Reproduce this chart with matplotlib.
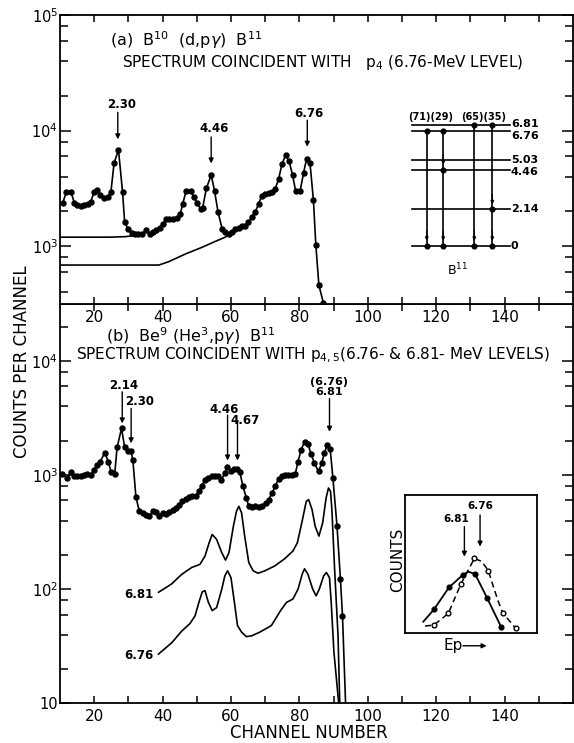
import matplotlib

matplotlib.use("Agg")
import matplotlib.pyplot as plt
import numpy as np
from matplotlib import ticker

plt.rcParams["font.family"] = ["DejaVu Sans"]
plt.rcParams["mathtext.fontset"] = "dejavusans"

# ---- (a) B10(d,p gamma)B11, coincident with p4 ----
chan_a = [10.8, 11.9, 13.2, 14.2, 15.1, 16.1, 17.1, 18.1, 19.0, 20.0, 20.8, 21.7, 22.9, 23.9,
          24.9, 25.8, 27.1, 28.3, 28.9, 29.9, 31.0, 31.9, 32.9, 34.1, 35.2, 36.2, 37.2, 38.2,
          39.1, 40.1, 41.1, 42.0, 43.0, 44.3, 45.2, 45.9, 46.9, 48.2, 49.1, 50.1, 51.1, 51.7,
          52.8, 54.2, 55.2, 56.2, 57.4, 58.3, 59.3, 60.3, 61.3, 62.2, 63.2, 64.2, 65.1, 66.1,
          67.1, 68.1, 69.0, 70.0, 71.0, 71.9, 72.9, 73.9, 74.9, 76.0, 77.0, 78.0, 78.9, 80.2,
          81.2, 82.1, 83.1, 84.1, 84.8, 85.7, 87.0]
counts_a = [2370, 2960, 2960, 2370, 2265, 2220, 2265, 2340, 2420, 2960, 3055, 2770, 2620, 2660,
            2960, 5220, 6820, 2920, 1620, 1400, 1310, 1280, 1265, 1280, 1370, 1265, 1325, 1370,
            1435, 1565, 1710, 1710, 1710, 1755, 1915, 2340, 3020, 3020, 2670, 2370, 2090, 2145,
            3160, 4130, 3000, 1980, 1415, 1325, 1280, 1325, 1400, 1435, 1495, 1510, 1620, 1790,
            1980, 2340, 2730, 2805, 2900, 2960, 3120, 3790, 5120, 6175, 5410, 4130, 3000, 3000,
            4275, 5700, 5220, 2500, 1030, 460, 325]
bg_hi_chan = [10, 24.4, 29.2, 32.1, 34.1]
bg_hi_counts = [1197, 1197, 1210, 1240, 1275]
bg_lo_chan = [10, 38.9, 41.8, 46.7, 51.6, 55.4, 58.3, 60.8]
bg_lo_counts = [687, 687, 735, 857, 980, 1100, 1197, 1325]

# B11 level scheme
levels = [0, 2.14, 4.46, 5.03, 6.76, 6.81]
branch_labels = ["(71)(29)", "(65)(35)"]
cascades = [[6.76, 0], [6.76, 4.46, 0], [6.81, 0], [6.81, 2.14, 0]]

# ---- (b) Be9(He3,p gamma)B11, coincident with p4,5 ----
chan_b = [10.5, 12.1, 13.1, 14.1, 15.1, 16.0, 17.0, 18.0, 19.0, 19.9, 20.9, 21.8, 23.1, 24.1,
          25.0, 26.0, 26.7, 28.0, 28.9, 29.8, 30.7, 31.3, 32.2, 33.2, 34.2, 35.1, 36.1, 37.1,
          38.0, 39.0, 40.0, 41.0, 41.9, 42.9, 43.9, 44.8, 45.8, 46.8, 47.7, 48.7, 49.7, 50.5,
          51.4, 52.4, 53.4, 54.3, 55.3, 56.3, 57.2, 58.2, 58.9, 59.9, 60.8, 61.8, 62.6, 63.5,
          64.5, 65.2, 66.2, 67.1, 68.1, 69.1, 70.1, 71.0, 72.0, 73.0, 73.9, 74.9, 75.9, 76.8,
          77.8, 78.8, 79.6, 80.5, 81.5, 82.5, 83.4, 84.4, 85.6, 86.5, 87.3, 88.1, 89.0, 89.8,
          91.0, 92.0, 92.6]
counts_b = [1027, 942, 1055, 987, 987, 987, 1007, 1027, 1007, 1113, 1230, 1316, 1577, 1316,
            1055, 1027, 1755, 2570, 1755, 1640, 1640, 1360, 643, 482, 466, 451, 436, 482,
            472, 436, 466, 460, 472, 499, 515, 551, 589, 618, 643, 652, 661, 721,
            797, 911, 942, 973, 987, 987, 911, 1041, 1190, 1077, 1128, 1128, 1055, 797,
            630, 533, 526, 541, 526, 541, 570, 610, 697, 807, 923, 987, 1007, 1007,
            1007, 1027, 1316, 1663, 1966, 1876, 1535, 1273, 1077, 1273, 1556, 1842, 1698, 942,
            357, 122, 58.5]
tail_chan_b = [92.6, 93.5]
tail_counts_b = [58.5, 10]

c681_chan = [38.8, 42.6, 45.6, 48.5, 50.9, 52.4, 53.6, 54.5, 55.8, 57.3, 58.4, 59.4, 60.7,
             61.6, 62.3, 63.1, 64.0, 65.2, 66.5, 67.9, 69.9, 72.8, 75.7, 78.1, 79.4, 80.8,
             82.0, 82.7, 83.7, 84.6, 85.7, 86.8, 87.8, 88.5, 89.1, 89.5, 90.3, 91.3, 91.8]
c681_counts = [94, 111, 135, 155, 165, 195, 255, 302, 273, 209, 180, 209, 357,
               482, 533, 466, 292, 171, 145, 138, 145, 160, 185, 216, 255, 394,
               589, 610, 499, 357, 292, 381, 630, 771, 721, 499, 149, 39, 10]
c676_chan = [38.8, 42.7, 45.6, 48.0, 49.5, 50.6, 51.6, 52.4, 53.4, 54.5, 55.8, 57.3, 58.2,
             59.0, 60.0, 61.0, 61.9, 63.1, 64.5, 66.0, 68.4, 71.8, 74.5, 76.2, 78.1, 79.6,
             80.8, 81.5, 82.5, 83.9, 84.9, 85.8, 87.1, 87.9, 88.8, 89.3, 90.1, 91.5]
c676_counts = [27, 34, 43, 50, 58.5, 76.5, 95, 97, 76.5, 65, 69, 100, 131,
               145, 126, 76.5, 48, 42, 38.4, 39, 42, 48, 65, 76.5, 82, 100,
               135, 151, 135, 100, 87.5, 100, 131, 140, 126, 76.5, 28, 10]

# inset: proton peak shapes (arbitrary units)
ins681_x = [1.39, 2.2, 3.34, 4.38, 4.81, 5.32, 6.25, 7.29, 7.4]
ins681_y = [0.8, 1.69, 3.29, 4.19, 4.43, 4.26, 2.49, 0.44, 0.25]
ins681_dots = [1, 2, 3, 5, 6, 7]
ins676_x = [1.52, 2.2, 3.29, 4.23, 5.27, 5.83, 6.33, 6.71, 7.09, 7.42, 8.41]
ins676_y = [0.48, 0.56, 1.4, 3.51, 5.4, 5.17, 4.5, 3.34, 2.25, 1.45, 0.31]
ins676_dots = [1, 2, 3, 4, 6, 9, 10]

W, H = 574, 743


def fx(px):
    return px / W


def fy(py):
    return 1 - py / H


def decade_label(v, _pos):
    n = int(round(np.log10(v)))
    return "10" if n == 1 else rf"$10^{{{n}}}$"


def style_axis(ax, ylo, yhi):
    ax.set_yscale("log")
    ax.set_xlim(10, 160)
    ax.set_ylim(ylo, yhi)
    ax.xaxis.set_major_locator(ticker.FixedLocator(range(20, 160, 10)))
    ax.xaxis.set_major_formatter(ticker.FuncFormatter(
        lambda v, _: f"{v:.0f}" if v % 20 == 0 else ""))
    ax.yaxis.set_major_locator(ticker.LogLocator(base=10, numticks=10))
    ax.yaxis.set_minor_locator(ticker.LogLocator(base=10, subs=(2, 4, 6, 8), numticks=10))
    ax.yaxis.set_major_formatter(ticker.FuncFormatter(decade_label))
    ax.yaxis.set_minor_formatter(ticker.NullFormatter())
    ax.tick_params(which="both", direction="in", top=True, right=True, width=1.1)
    ax.tick_params(axis="x", length=5, labelsize=11, pad=4)
    ax.tick_params(axis="y", which="major", length=8, labelsize=10.5, pad=1.5)
    ax.tick_params(axis="y", which="minor", length=6)
    for sp in ax.spines.values():
        sp.set_linewidth(1.3)


def arrow(ax, x, y_from, y_to, **kw):
    ax.annotate("", xy=(x, y_to), xytext=(x, y_from),
                arrowprops=dict(arrowstyle="-|>", color="k", lw=1.0, mutation_scale=7,
                                shrinkA=0, shrinkB=0), **kw)


fig = plt.figure(figsize=(W / 100, H / 100), dpi=100)
left, right = fx(60), fx(573)
ax_a = fig.add_axes([left, fy(304), right - left, fy(15) - fy(304)])
ax_b = fig.add_axes([left, fy(703.3), right - left, fy(304) - fy(703.3)])
ax_a.set_zorder(2)
style_axis(ax_a, 10 ** 2.5, 1e5)
style_axis(ax_b, 10, 10 ** 4.5)

mk = dict(color="k", lw=1.2, marker="o", ms=3.6, solid_joinstyle="round")
small = dict(fontsize=8.5, fontweight="bold", ha="center", va="center")

# panel (a)
ax_a.plot(chan_a, counts_a, **mk)
ax_a.plot(bg_hi_chan, bg_hi_counts, color="k", lw=1.2)
ax_a.plot(bg_lo_chan, bg_lo_counts, color="k", lw=1.2)
arrow(ax_a, 26.9, 14400, 8400)
ax_a.text(28.0, 16800, "2.30", **small)
arrow(ax_a, 54.2, 8800, 5200)
ax_a.text(55.1, 10400, "4.46", **small)
arrow(ax_a, 82.3, 12300, 7250)
ax_a.text(82.9, 14100, "6.76", **small)

fig.text(fx(110), fy(40), r"(a)  B$^{10}$  (d,p$\gamma$)  B$^{11}$", fontsize=11.5,
         va="center")
fig.text(fx(323), fy(63), r"SPECTRUM COINCIDENT WITH   p$_4$ (6.76-MeV LEVEL)",
         fontsize=11, ha="center", va="center")

# level scheme (6.81 drawn a little above 6.76 so both lines show)
lv = fig.add_axes([fx(411.7), fy(246), fx(510) - fx(411.7), fy(125) - fy(246)])
lv.set_zorder(4)
lv.set_xlim(0, 1)
lv.set_ylim(0, 7.09)
lv.axis("off")


def lev_y(e):
    return e + 0.28 if e > 6.78 else e


label_shift = {6.81: 0.05, 6.76: -0.3, 4.46: -0.1}
for e in levels:
    lv.plot([0, 1], [lev_y(e)] * 2, color="k", lw=1.2, clip_on=False)
    lv.text(1.01, lev_y(e) + label_shift.get(e, 0), f"{e:g}",
            fontsize=8, fontweight="bold", va="center", ha="left")
trans_x = [0.153, 0.321, 0.637, 0.82]
for xt, casc in zip(trans_x, cascades):
    ys = [lev_y(e) for e in casc]
    lv.plot([xt] * len(ys), ys, color="k", lw=1.2, marker="o", ms=3.4, clip_on=False)
    for lo in casc[1:]:
        lv.annotate("", xy=(xt, lev_y(lo) + 0.3), xytext=(xt, lev_y(lo) + 0.9),
                    arrowprops=dict(arrowstyle="-|>", color="k", lw=0.8, mutation_scale=5,
                                    shrinkA=0, shrinkB=0))
for xl, lab in zip([0.195, 0.735], branch_labels):
    lv.text(xl, 7.55, lab, fontsize=7, fontweight="bold", ha="center", va="center")
lv.text(0.471, -1.4, r"B$^{11}$", fontsize=9, ha="center", va="center")

# panel (b)
ax_b.plot(chan_b, counts_b, **mk)
ax_b.plot(tail_chan_b, tail_counts_b, color="k", lw=1.2)
ax_b.plot(c681_chan, c681_counts, color="k", lw=1.2, solid_joinstyle="round")
ax_b.plot(c676_chan, c676_counts, color="k", lw=1.2, solid_joinstyle="round")
ax_b.text(37.3, 90, "6.81", fontsize=8.5, fontweight="bold", ha="right", va="center")
ax_b.text(37.3, 26.5, "6.76", fontsize=8.5, fontweight="bold", ha="right", va="center")

arrow(ax_b, 28.2, 5370, 2840)
ax_b.text(28.6, 6140, "2.14", **small)
arrow(ax_b, 30.8, 3840, 1900)
ax_b.text(29.1, 4390, "2.30", fontsize=8.5, fontweight="bold", ha="left", va="center")
arrow(ax_b, 59.0, 3360, 1343)
ax_b.text(57.9, 3770, "4.46", **small)
arrow(ax_b, 61.9, 2940, 1343)
ax_b.text(64.0, 3040, "4.67", **small)
arrow(ax_b, 88.8, 4700, 2400)
ax_b.text(88.8, 6500, "(6.76)", fontsize=8, fontweight="bold", ha="center", va="center")
ax_b.text(88.8, 5300, "6.81", fontsize=8, fontweight="bold", ha="center", va="center")

fig.text(fx(106), fy(336), r"(b)  Be$^{9}$ (He$^{3}$,p$\gamma$)  B$^{11}$", fontsize=11.5,
         va="center")
fig.text(fx(313), fy(355), r"SPECTRUM COINCIDENT WITH p$_{4,5}$(6.76- & 6.81- MeV LEVELS)",
         fontsize=11, ha="center", va="center")

# inset with the two proton groups
ins = fig.add_axes([fx(405), fy(632.7), fx(536.7) - fx(405), fy(495) - fy(632.7)])
ins.set_zorder(3)
ins.set_xlim(0, 10)
ins.set_ylim(0, 10)
ins.set_xticks([])
ins.set_yticks([])
for sp in ins.spines.values():
    sp.set_linewidth(1.3)
ins.plot(ins681_x, ins681_y, color="k", lw=1.3, marker="o", ms=3.4, markevery=ins681_dots)
ins.plot(ins676_x, ins676_y, color="k", lw=1.1, ls=(0, (4, 2.5)), marker="o", ms=3.4,
         mfc="white", markevery=ins676_dots)
for xa, y0, y1, xl, yl, lab in [(4.51, 7.7, 5.52, 3.92, 8.23, "6.81"),
                                (5.7, 8.55, 6.25, 5.75, 9.2, "6.76")]:
    ins.annotate("", xy=(xa, y1), xytext=(xa, y0),
                 arrowprops=dict(arrowstyle="-|>", color="k", lw=1.0, mutation_scale=7,
                                 shrinkA=0, shrinkB=0))
    ins.text(xl, yl, lab, fontsize=7.5, fontweight="bold", ha="center", va="center")
ins.text(-0.58, 5.28, "COUNTS", rotation=90, fontsize=11, ha="center", va="center")
ins.text(3.64, -0.95, "Ep", fontsize=11, ha="center", va="center")
ins.annotate("", xy=(6.2, -0.95), xytext=(4.4, -0.95), annotation_clip=False,
             arrowprops=dict(arrowstyle="-|>", color="k", lw=1.0, mutation_scale=7,
                             shrinkA=0, shrinkB=0))

fig.text(fx(22), fy(362), "COUNTS PER CHANNEL", rotation=90, fontsize=12,
         ha="center", va="center")
fig.text(fx(309), fy(733), "CHANNEL NUMBER", fontsize=12, ha="center", va="center")

fig.savefig("out.png", dpi=100)
